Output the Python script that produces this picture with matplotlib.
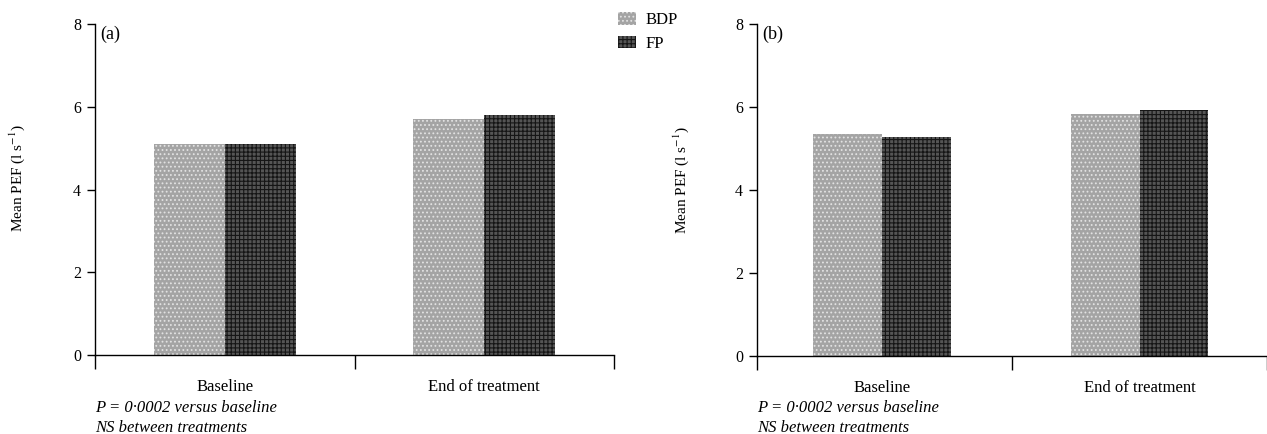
import matplotlib
matplotlib.use("Agg")
import matplotlib.pyplot as plt
from matplotlib.patches import Patch

plt.rcParams['font.family'] = ['Liberation Serif', 'DejaVu Serif']
plt.rcParams['mathtext.fontset'] = 'stix'
plt.rcParams['hatch.linewidth'] = 0.8

categories = ["Baseline", "End of treatment"]
series = ["BDP", "FP"]
bdp_a = [5.10, 5.70]
fp_a = [5.10, 5.80]
bdp_b = [5.35, 5.82]
fp_b = [5.27, 5.93]
yticks = [0, 2, 4, 6, 8]
notes = ["P = 0·0002 versus baseline", "NS between treatments"]

W, H = 1267, 434
fig = plt.figure(figsize=(W / 100, H / 100), dpi=100)

styles = {
    "BDP": dict(facecolor="#a4a4a4", edgecolor="#e2e2e2", hatch="....", linewidth=0),
    "FP": dict(facecolor="#555555", edgecolor="#151515", hatch="++++", linewidth=0),
}

def panel(rect, xmax, cats_pos, width, bdp, fp, tag, ylabel_xy):
    ax = fig.add_axes(rect)
    ax.bar([c - width / 2 for c in cats_pos], bdp, width, **styles["BDP"])
    ax.bar([c + width / 2 for c in cats_pos], fp, width, **styles["FP"])
    ax.set_xlim(0, xmax)
    ax.set_ylim(0, 8)
    for s in ["top", "right"]:
        ax.spines[s].set_visible(False)
    ax.spines["left"].set_linewidth(1.0)
    ax.spines["bottom"].set_linewidth(1.0)
    ax.set_yticks(yticks)
    ax.tick_params(axis="y", direction="out", length=6, width=1, labelsize=11.5, pad=4)
    ax.set_xticks([0, 1, 2])
    ax.set_xticklabels([])
    ax.set_xticks(cats_pos, minor=True)
    ax.set_xticklabels(categories, minor=True)
    ax.tick_params(axis="x", which="major", direction="out", length=10, width=1)
    ax.tick_params(axis="x", which="minor", length=0, labelsize=12, pad=17)
    ax.set_ylabel(r"Mean PEF (l s$^{-1}$)", fontsize=11)
    ax.yaxis.set_label_coords(*ylabel_xy)
    ax.text(5 / (rect[2] * W), 1 - 2 / (rect[3] * H), tag, transform=ax.transAxes,
            fontsize=13, va="top", ha="left")
    return ax

# panel (a)
ax1 = panel([95 / W, 79 / H, 519 / W, 331 / H], 2.0, [0.5, 1.5], 0.274,
            bdp_a, fp_a, "(a)", (-0.131, 0.535))
# panel (b)
ax2 = panel([757 / W, 78 / H, 510 / W, 332 / H], 510 / 266, [0.49, 1.5], 0.27,
            bdp_b, fp_b, "(b)", (-0.129, 0.53))

for xpix in (95, 757):
    fig.text(xpix / W, (H - 408) / H, notes[0], fontsize=12, style="italic",
             ha="left", va="center")
    fig.text(xpix / W, (H - 428) / H, notes[1], fontsize=12, style="italic",
             ha="left", va="center")

handles = [Patch(**styles[s]) for s in series]
fig.legend(handles, series, loc="upper left", bbox_to_anchor=(618 / W, 1 - 12 / H),
           frameon=False, fontsize=12, handlelength=1.1, handleheight=0.8,
           handletextpad=0.55, labelspacing=0.45, borderpad=0, borderaxespad=0)

fig.savefig("out.png", dpi=100)
